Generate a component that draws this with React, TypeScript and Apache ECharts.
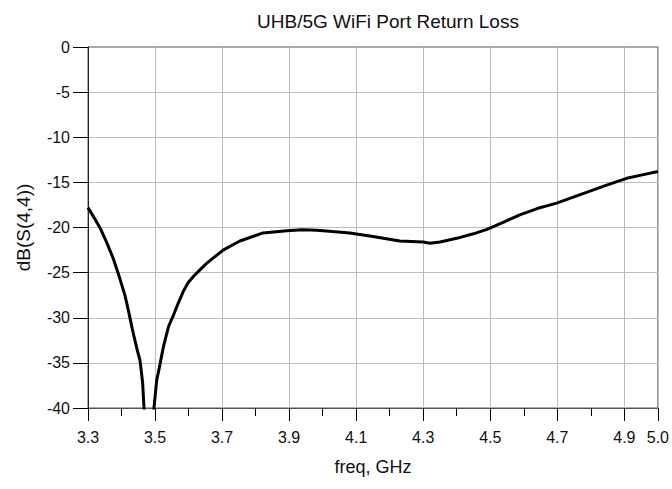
import React, { useEffect, useRef } from "react";
import * as echarts from "echarts";

const freqGHz = [
  3.300, 3.318, 3.336, 3.355, 3.375, 3.392, 3.410, 3.420, 3.433, 3.447,
  3.455, 3.463, 3.467, 3.482, 3.497, 3.505, 3.513, 3.525, 3.540, 3.554,
  3.569, 3.584, 3.599, 3.615, 3.634, 3.653, 3.673, 3.703, 3.753, 3.822,
  3.893, 3.940, 3.982, 4.030, 4.081, 4.150, 4.230, 4.300, 4.320, 4.350,
  4.400, 4.450, 4.490, 4.540, 4.588, 4.640, 4.698, 4.787, 4.847, 4.907,
  4.950, 5.000,
];
const s44dB = [
  -17.8, -18.9, -20.05, -21.6, -23.4, -25.3, -27.5, -29.1, -31.4, -33.6,
  -34.7, -37.2, -39.9, -48.0, -39.9, -36.9, -35.5, -33.2, -31.0, -29.8,
  -28.4, -27.1, -26.1, -25.4, -24.7, -24.0, -23.4, -22.5, -21.5, -20.6,
  -20.35, -20.25, -20.3, -20.45, -20.6, -21.0, -21.5, -21.6, -21.75, -21.6,
  -21.2, -20.7, -20.2, -19.4, -18.6, -17.9, -17.3, -16.1, -15.3, -14.55,
  -14.2, -13.8,
];

const titleText = "UHB/5G WiFi Port Return Loss";
const xName = "freq, GHz";
const yName = "dB(S(4,4))";
const xMin = 3.3;
const xMax = 5.0;
const yMin = -40;
const yMax = 0;

const FONT = "'Liberation Sans', Arial, Helvetica, sans-serif";

export default function App() {
  const ref = useRef<HTMLDivElement>(null);
  useEffect(() => {
    document.body.style.margin = "0";
    const chart = echarts.init(ref.current!, null, { renderer: "svg" });
    const data = freqGHz.map((f, i) => [f, s44dB[i]]);
    chart.setOption({
      animation: false,
      textStyle: { fontFamily: FONT },
      grid: {
        left: 88,
        right: 14,
        top: 47,
        bottom: 81,
        show: true,
        borderColor: "#555",
        borderWidth: 1,
      },
      graphic: [
        {
          type: "text",
          x: 388,
          y: 21,
          style: {
            text: titleText,
            fontSize: 19,
            fontFamily: FONT,
            fill: "#111",
            textAlign: "center",
            textVerticalAlign: "middle",
          },
        },
      ],
      xAxis: [
        {
          type: "value",
          min: xMin,
          max: xMax,
          interval: 0.2,
          position: "bottom",
          name: xName,
          nameLocation: "middle",
          nameGap: 50,
          nameTextStyle: { fontSize: 18, color: "#111", fontFamily: FONT },
          axisLine: { show: true, onZero: false, lineStyle: { color: "#555", width: 1 } },
          axisTick: { show: true, length: 13, lineStyle: { color: "#000", width: 1 } },
          axisLabel: {
            show: true,
            margin: 21,
            fontSize: 16,
            color: "#111",
            fontFamily: FONT,
            showMinLabel: true,
            showMaxLabel: true,
            formatter: (v: number) => v.toFixed(1),
          },
          splitLine: {
            show: true,
            showMinLine: false,
            showMaxLine: false,
            lineStyle: { color: "#bdbdbd", width: 1 },
          },
        },
        {
          type: "value",
          min: xMin,
          max: xMax,
          interval: 0.1,
          position: "bottom",
          axisLine: { show: false, onZero: false },
          axisTick: { show: true, length: 8, lineStyle: { color: "#000", width: 1 } },
          axisLabel: { show: false },
          splitLine: { show: false },
        },
      ],
      yAxis: {
        type: "value",
        min: yMin,
        max: yMax,
        interval: 5,
        name: yName,
        nameLocation: "middle",
        nameRotate: 90,
        nameGap: 55,
        nameTextStyle: { fontSize: 19, color: "#111", fontFamily: FONT },
        axisLine: { show: true, onZero: false, lineStyle: { color: "#222", width: 1 } },
        axisTick: { show: true, length: 15, lineStyle: { color: "#000", width: 1 } },
        axisLabel: { margin: 18, fontSize: 16, color: "#111", fontFamily: FONT },
        splitLine: {
          show: true,
          showMinLine: false,
          showMaxLine: false,
          lineStyle: { color: "#bdbdbd", width: 1 },
        },
      },
      series: [
        {
          type: "line",
          xAxisIndex: 0,
          yAxisIndex: 0,
          data,
          showSymbol: false,
          symbol: "none",
          clip: true,
          lineStyle: { color: "#000", width: 3 },
        },
      ],
    });
    return () => chart.dispose();
  }, []);
  return <div ref={ref} style={{ width: 672, height: 489 }} />;
}
